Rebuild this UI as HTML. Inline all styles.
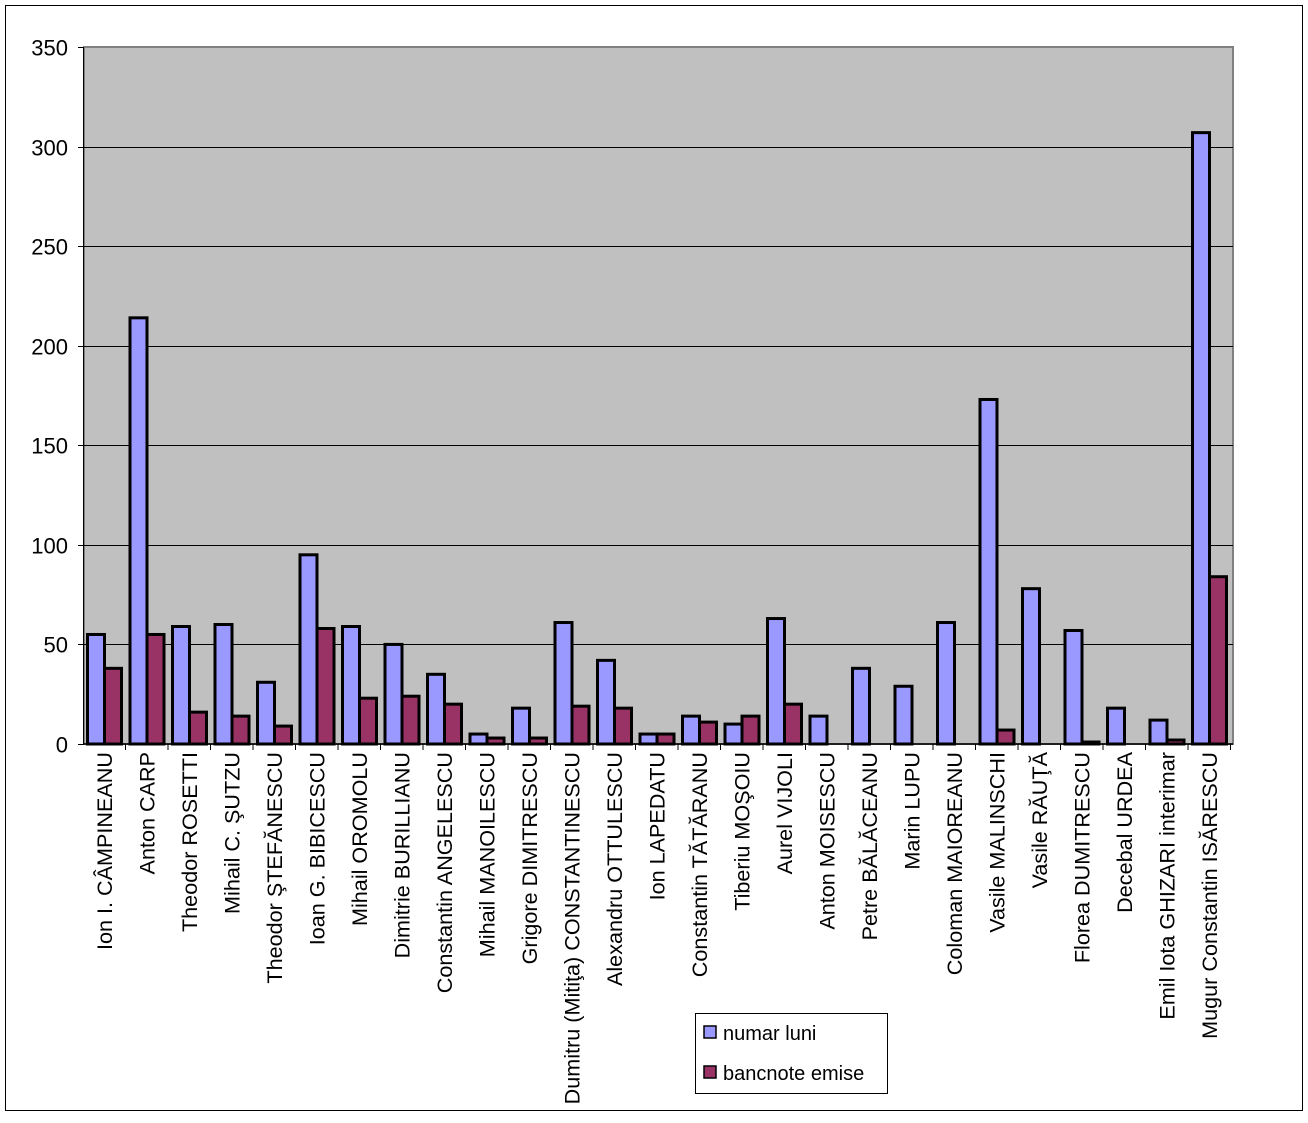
<!DOCTYPE html>
<html><head><meta charset="utf-8"><style>body{margin:0;background:#fff}</style></head><body>
<svg width="1308" height="1118" xmlns="http://www.w3.org/2000/svg" font-family="Liberation Sans, Arial, sans-serif">
<rect x="5.5" y="5.5" width="1297" height="1105" fill="#fff" stroke="#000" stroke-width="1"/>
<rect x="84" y="47" width="1149" height="697" fill="#C0C0C0" stroke="#808080" stroke-width="2"/>
<g id="grid" stroke="#000" stroke-width="1"></g>
<g id="bars"></g>
<g id="labels" font-size="21.6"></g>
<rect x="695.5" y="1013.5" width="192" height="80" fill="#fff" stroke="#000"/>
<rect x="704" y="1026" width="12" height="12" fill="#9999FF" stroke="#000" stroke-width="1.5"/>
<text x="723" y="1040" font-size="20">numar luni</text>
<rect x="704" y="1066" width="12" height="12" fill="#993366" stroke="#000" stroke-width="1.5"/>
<text x="723" y="1080" font-size="20">bancnote emise</text>
<script>
const names=["Ion I. CÂMPINEANU","Anton CARP","Theodor ROSETTI","Mihail C. ŞUTZU","Theodor ŞTEFĂNESCU","Ioan G. BIBICESCU","Mihail OROMOLU","Dimitrie BURILLIANU","Constantin ANGELESCU","Mihail MANOILESCU","Grigore DIMITRESCU","Dumitru (Mitiţa) CONSTANTINESCU","Alexandru OTTULESCU","Ion LAPEDATU","Constantin TĂTĂRANU","Tiberiu MOŞOIU","Aurel VIJOLI","Anton MOISESCU","Petre BĂLĂCEANU","Marin LUPU","Coloman MAIOREANU","Vasile MALINSCHI","Vasile RĂUŢĂ","Florea DUMITRESCU","Decebal URDEA","Emil Iota GHIZARI interimar","Mugur Constantin ISĂRESCU"];
const a=[55,214,59,60,31,95,59,50,35,5,18,61,42,5,14,10,63,14,38,29,61,173,78,57,18,12,307];
const b=[38,55,16,14,9,58,23,24,20,3,3,19,18,5,11,14,20,0,0,0,0,7,0,1,0,2,84];
const ns="http://www.w3.org/2000/svg";
function el(t,at,p,txt){const e=document.createElementNS(ns,t);for(const k in at)e.setAttribute(k,at[k]);if(txt!==undefined)e.textContent=txt;p.appendChild(e);return e;}
const g=document.getElementById('grid'),B=document.getElementById('bars'),L=document.getElementById('labels');
const y=v=>744-v*697/350;
for(let v=0;v<=350;v+=50){const yy=Math.round(y(v))+0.5;if(v>0&&v<350)el('line',{x1:84,x2:1233,y1:yy,y2:yy},g);el('line',{x1:78,x2:84,y1:yy,y2:yy},g);
el('text',{x:68,y:yy+8,'text-anchor':'end','font-size':22,stroke:'none'},g,String(v));}
el('line',{x1:84,x2:1233,y1:744,y2:744,stroke:'#000','stroke-width':1.5},g);
el('line',{x1:83.5,x2:83.5,y1:47,y2:744},g);
for(let i=0;i<27;i++){const l=83+i*42.5;
el('line',{x1:l+42.5,x2:l+42.5,y1:744,y2:750},g);
el('rect',{x:l+4.5,y:y(a[i]),width:17,height:744-y(a[i]),fill:'#9999FF',stroke:'#000','stroke-width':3},B);
if(b[i]>0)el('rect',{x:l+21.5,y:y(b[i]),width:17,height:744-y(b[i]),fill:'#993366',stroke:'#000','stroke-width':3},B);
const cx=l+21.25+7.5;el('text',{x:cx,y:752,transform:`rotate(-90 ${cx} 752)`,'text-anchor':'end'},L,names[i]);}
</script>
</svg>
</body></html>
